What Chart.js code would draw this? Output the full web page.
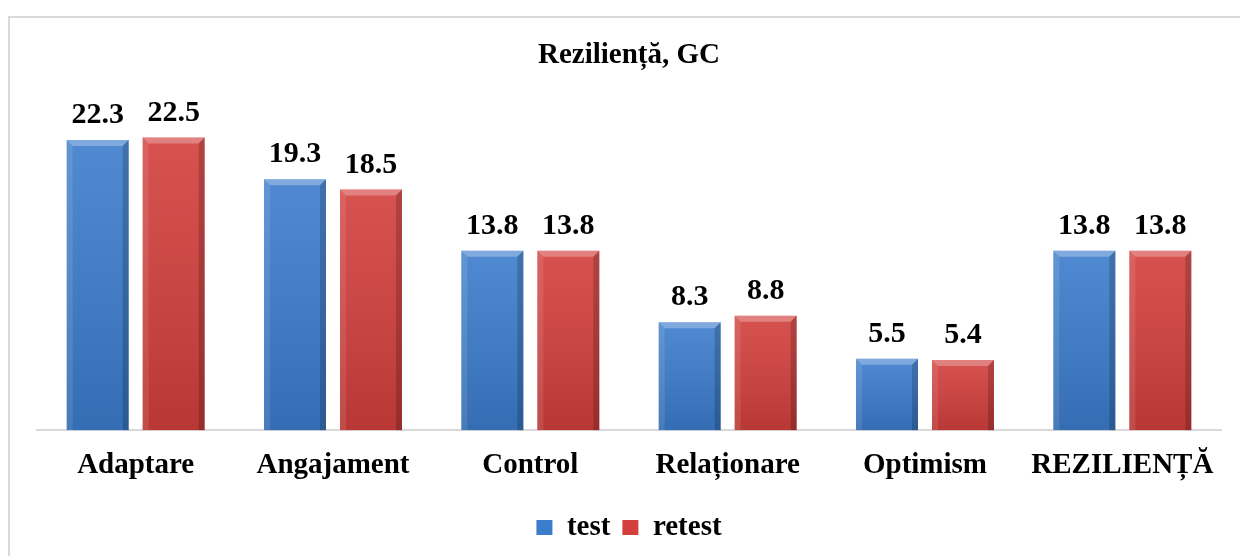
<!DOCTYPE html>
<html>
<head>
<meta charset="utf-8">
<script src="https://cdn.jsdelivr.net/npm/chart.js@4/dist/chart.umd.min.js"></script>
<style>
  html, body { margin: 0; padding: 0; background: #fff; overflow: hidden; }
  #frame { position: absolute; left: 8px; top: 16px; width: 1400px; height: 700px; border: 2px solid #d9d9d9; }
  #wrap { position: absolute; left: 0; top: 0; width: 1240px; height: 556px; }
</style>
</head>
<body>
<div id="frame"></div>
<div id="wrap"><canvas id="plot" width="1240" height="556"></canvas></div>
<script>
const categories = ["Adaptare", "Angajament", "Control", "Relaționare", "Optimism", "REZILIENȚĂ"];
const testValues = [22.3, 19.3, 13.8, 8.3, 5.5, 13.8];
const retestValues = [22.5, 18.5, 13.8, 8.8, 5.4, 13.8];

const FONT = "'Liberation Serif', 'Times New Roman', serif";

// bevel look on top of each bar (lighter top edge, darker sides/bottom)
const bevelPlugin = {
  id: "bevel",
  afterDatasetsDraw(chart) {
    const ctx = chart.ctx;
    chart.data.datasets.forEach((ds, di) => {
      const meta = chart.getDatasetMeta(di);
      meta.data.forEach(bar => {
        const w = bar.width, l = bar.x - w / 2, r = bar.x + w / 2, t = bar.y, b = bar.base;
        const e = 6;
        ctx.save();
        // vertical shading
        const g = ctx.createLinearGradient(0, t, 0, b);
        g.addColorStop(0, "rgba(255,255,255,0.10)");
        g.addColorStop(1, "rgba(0,0,0,0.12)");
        ctx.fillStyle = g;
        ctx.fillRect(l, t, w, b - t);
        // top bevel
        ctx.fillStyle = "rgba(255,255,255,0.28)";
        ctx.beginPath();
        ctx.moveTo(l, t); ctx.lineTo(r, t); ctx.lineTo(r - e, t + e); ctx.lineTo(l + e, t + e); ctx.closePath();
        ctx.fill();
        // left bevel
        ctx.fillStyle = "rgba(255,255,255,0.10)";
        ctx.beginPath();
        ctx.moveTo(l, t); ctx.lineTo(l + e, t + e); ctx.lineTo(l + e, b); ctx.lineTo(l, b); ctx.closePath();
        ctx.fill();
        // right bevel
        ctx.fillStyle = "rgba(0,0,0,0.18)";
        ctx.beginPath();
        ctx.moveTo(r, t); ctx.lineTo(r - e, t + e); ctx.lineTo(r - e, b); ctx.lineTo(r, b); ctx.closePath();
        ctx.fill();
        ctx.restore();
      });
    });
  }
};

// values above the bars
const valueLabels = {
  id: "valueLabels",
  afterDatasetsDraw(chart) {
    const ctx = chart.ctx;
    ctx.save();
    ctx.font = "bold 30px " + FONT;
    ctx.fillStyle = "#000";
    ctx.textAlign = "center";
    ctx.textBaseline = "alphabetic";
    chart.data.datasets.forEach((ds, di) => {
      chart.getDatasetMeta(di).data.forEach((bar, i) => {
        ctx.fillText(ds.data[i].toFixed(1), bar.x, bar.y - 17);
      });
    });
    ctx.restore();
  }
};

new Chart(document.getElementById("plot").getContext("2d"), {
  type: "bar",
  data: {
    labels: categories,
    datasets: [
      { label: "test", data: testValues, backgroundColor: "#3c7ccc",
        categoryPercentage: 0.77, barPercentage: 0.816 },
      { label: "retest", data: retestValues, backgroundColor: "#d23f3c",
        categoryPercentage: 0.77, barPercentage: 0.816 }
    ]
  },
  options: {
    responsive: false,
    animation: false,
    layout: { padding: { left: 37, right: 19, top: 0, bottom: 4 } },
    plugins: {
      title: {
        display: true,
        text: "Rezilienț\u0103, GC",
        color: "#000",
        font: { family: FONT, size: 29, weight: "bold" },
        padding: { top: 38.6, bottom: 31.6 }
      },
      legend: {
        position: "bottom",
        labels: {
          color: "#000",
          font: { family: FONT, size: 29, weight: "bold" },
          boxWidth: 16,
          boxHeight: 15,
          padding: 12
        }
      },
      tooltip: { enabled: false }
    },
    scales: {
      x: {
        grid: { display: false, drawTicks: false },
        border: { display: true, color: "#d9d9d9", width: 2 },
        ticks: { color: "#000", font: { family: FONT, size: 29, weight: "bold" }, padding: 18 }
      },
      y: {
        display: false,
        min: 0,
        max: 25
      }
    }
  },
  plugins: [bevelPlugin, valueLabels]
});
</script>
</body>
</html>
